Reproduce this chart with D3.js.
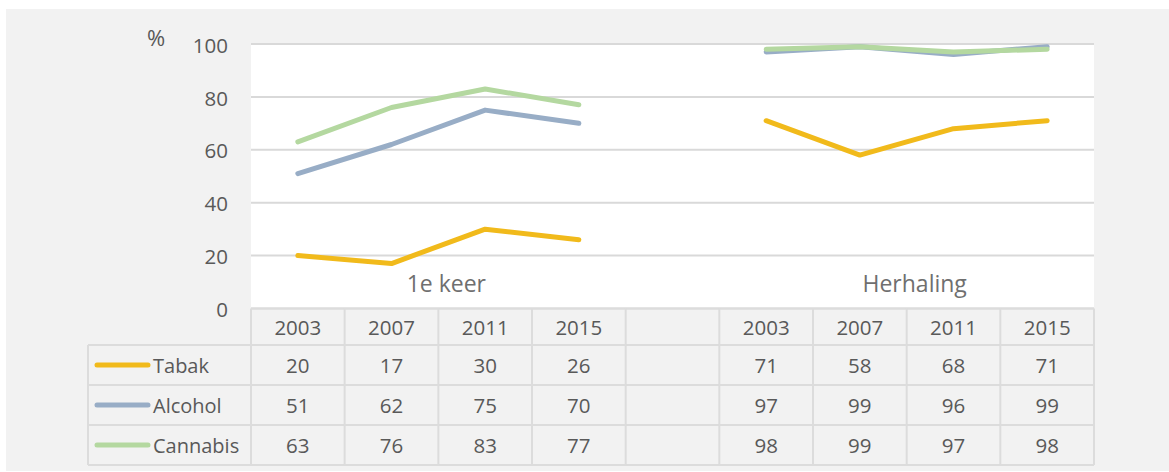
<!DOCTYPE html>
<html>
<head>
<meta charset="utf-8">
<script src="https://cdn.jsdelivr.net/npm/d3@7"></script>
<style>
  body { margin: 0; background: #ffffff; }
  text { font-family: "Open Sans", sans-serif; fill: #595959; }
</style>
</head>
<body>
<script>
// data
var groups = ["1e keer", "Herhaling"];
var years = ["2003", "2007", "2011", "2015"];
var seriesNames = ["Tabak", "Alcohol", "Cannabis"];
var tabak = [20, 17, 30, 26, 71, 58, 68, 71];
var alcohol = [51, 62, 75, 70, 97, 99, 96, 99];
var cannabis = [63, 76, 83, 77, 98, 99, 97, 98];
var yTicks = [0, 20, 40, 60, 80, 100];

var colors = ["#f1ba1b", "#98adc6", "#b4d8a0"];
var allValues = [tabak, alcohol, cannabis];

// columns: 4 years, an empty gap, 4 years
var columns = [];
groups.forEach(function(g, gi){
    years.forEach(function(y){ columns.push({group: gi, year: y, key: gi + "-" + y}); });
    if (gi == 0) columns.push({group: -1, year: "", key: "gap"});
});

var W = 1169, H = 472;
var plotL = 251, plotR = 1094, plotT = 44, plotB = 308.5;
var legendL = 88;
var headerB = 345, rowH = 40;

var svg = d3.select('body').append('svg')
    .attr('width', W)
    .attr('height', H);

svg.append('rect')
    .attr('x', 6).attr('y', 9)
    .attr('width', W - 6).attr('height', 462)
    .attr('fill', '#f2f2f2');

var x = d3.scaleBand()
    .domain(columns.map(function(c){ return c.key; }))
    .range([plotL, plotR])
    .padding(0);

var y = d3.scaleLinear()
    .domain([0, 100])
    .range([plotB, plotT]);

// plot area
svg.append('rect')
    .attr('x', plotL).attr('y', plotT)
    .attr('width', plotR - plotL).attr('height', plotB - plotT)
    .attr('fill', 'white');

// gridlines
svg.append('g')
    .selectAll('line')
    .data(yTicks)
    .enter()
    .append('line')
    .attr('x1', plotL).attr('x2', plotR)
    .attr('y1', function(d){ return y(d); })
    .attr('y2', function(d){ return y(d); })
    .attr('stroke', '#d9d9d9')
    .attr('stroke-width', 2);

// y tick labels
svg.append('g')
    .selectAll('text')
    .data(yTicks)
    .enter()
    .append('text')
    .attr('x', 228)
    .attr('y', function(d){ return y(d) + 1.5; })
    .attr('dy', '0.35em')
    .attr('text-anchor', 'end')
    .attr('font-size', '20.5px')
    .text(function(d){ return d; });

svg.append('text')
    .attr('x', 156).attr('y', 38)
    .attr('dy', '0.35em')
    .attr('text-anchor', 'middle')
    .attr('font-size', '22px')
    .text('%');

// group labels
groups.forEach(function(g, gi){
    var keys = columns.filter(function(c){ return c.group == gi; }).map(function(c){ return c.key; });
    var x0 = x(keys[0]), x1 = x(keys[keys.length - 1]) + x.bandwidth();
    svg.append('text')
        .attr('x', (x0 + x1) / 2 + 8)
        .attr('y', 292)
        .attr('text-anchor', 'middle')
        .attr('font-size', '23px')
        .style('fill', '#6f6f6f')
        .text(g);
});

// lines, one path per group so the gap stays open
var line = d3.line()
    .x(function(d){ return x(d.key) + x.bandwidth() / 2; })
    .y(function(d){ return y(d.v); });

allValues.forEach(function(vals, si){
    groups.forEach(function(g, gi){
        var pts = years.map(function(yr, i){
            return {key: gi + "-" + yr, v: vals[gi * years.length + i]};
        });
        svg.append('path')
            .datum(pts)
            .attr('d', line)
            .attr('fill', 'none')
            .attr('stroke', colors[si])
            .attr('stroke-width', 5)
            .attr('stroke-linecap', 'round')
            .attr('stroke-linejoin', 'round');
    });
});

// data table
var tbl = svg.append('g');
var gridColor = '#dcdcdc';
var lastB = headerB + rowH * seriesNames.length;

// header row top
tbl.append('line')
    .attr('x1', plotL).attr('x2', plotR)
    .attr('y1', plotB).attr('y2', plotB)
    .attr('stroke', gridColor).attr('stroke-width', 2);

// row separators
tbl.selectAll('line.row')
    .data(d3.range(seriesNames.length + 1))
    .enter()
    .append('line')
    .attr('class', 'row')
    .attr('x1', legendL).attr('x2', plotR)
    .attr('y1', function(i){ return headerB + i * rowH; })
    .attr('y2', function(i){ return headerB + i * rowH; })
    .attr('stroke', gridColor).attr('stroke-width', 2);

// column separators
var colEdges = columns.map(function(c){ return x(c.key); }).concat([plotR]);
tbl.selectAll('line.col')
    .data(colEdges)
    .enter()
    .append('line')
    .attr('class', 'col')
    .attr('x1', function(d){ return d; }).attr('x2', function(d){ return d; })
    .attr('y1', plotB).attr('y2', lastB)
    .attr('stroke', gridColor).attr('stroke-width', 2);

tbl.append('line')
    .attr('x1', legendL).attr('x2', legendL)
    .attr('y1', headerB).attr('y2', lastB)
    .attr('stroke', gridColor).attr('stroke-width', 2);

// header years
tbl.selectAll('text.hdr')
    .data(columns)
    .enter()
    .append('text')
    .attr('class', 'hdr')
    .attr('x', function(c){ return x(c.key) + x.bandwidth() / 2; })
    .attr('y', (plotB + headerB) / 2 + 1)
    .attr('dy', '0.35em')
    .attr('text-anchor', 'middle')
    .attr('font-size', '20.5px')
    .text(function(c){ return c.year; });

// rows
seriesNames.forEach(function(name, si){
    var cy = headerB + si * rowH + rowH / 2;
    tbl.append('line')
        .attr('x1', 97).attr('x2', 148)
        .attr('y1', cy).attr('y2', cy)
        .attr('stroke', colors[si])
        .attr('stroke-width', 5)
        .attr('stroke-linecap', 'round');
    tbl.append('text')
        .attr('x', 153).attr('y', cy + 1)
        .attr('dy', '0.35em')
        .attr('font-size', '20px')
        .text(name);
    var vals = allValues[si];
    var dataCols = columns.filter(function(c){ return c.group >= 0; });
    tbl.selectAll('text.v' + si)
        .data(dataCols)
        .enter()
        .append('text')
        .attr('class', 'v' + si)
        .attr('x', function(c){ return x(c.key) + x.bandwidth() / 2; })
        .attr('y', cy + 1)
        .attr('dy', '0.35em')
        .attr('text-anchor', 'middle')
        .attr('font-size', '20.5px')
        .text(function(c, i){ return vals[i]; });
});
</script>
</body>
</html>
